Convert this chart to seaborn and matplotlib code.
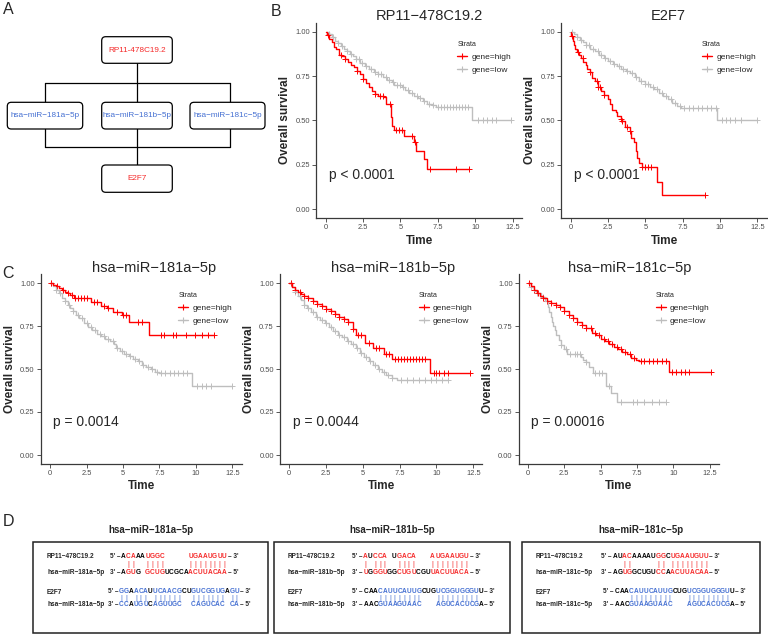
import numpy as np
import pandas as pd
import seaborn as sns
import matplotlib.pyplot as plt
from matplotlib.lines import Line2D
from matplotlib.patches import FancyBboxPatch, Rectangle

sns.set_theme(style="ticks")
plt.rcParams['font.family'] = ['Liberation Sans', 'DejaVu Sans']

RED = '#ff0000'
GREY = '#bebebe'
TXT_RED = '#f52a2a'
TXT_BLUE = '#4570d2'

W, H = 768, 637

# ---------------- KM curves (time, survival after each drop) ----------------
b1_high_t = [0, 0.1, 0.25, 0.4, 0.55, 0.7, 0.9, 1.1, 1.3, 1.5, 1.7, 1.9, 2.1, 2.3, 2.5, 2.7, 2.9, 3.1, 3.3, 3.5, 3.9, 4.0, 4.38, 4.45, 4.6, 5.25, 5.9, 6.05, 6.6, 6.8, 9.6]
b1_high_s = [1.0, 0.98, 0.96, 0.94, 0.915, 0.90, 0.87, 0.86, 0.845, 0.83, 0.81, 0.80, 0.78, 0.76, 0.735, 0.71, 0.69, 0.665, 0.65, 0.64, 0.63, 0.59, 0.52, 0.47, 0.445, 0.41, 0.38, 0.33, 0.28, 0.225, 0.225]
b1_high_c = [0.15, 1.0, 1.3, 2.1, 2.5, 3.3, 3.6, 3.85, 4.3, 4.7, 4.9, 5.1, 5.8, 6.0, 7.0, 8.7, 9.6]
b1_low_t = [0, 0.2, 0.4, 0.6, 0.8, 1.0, 1.2, 1.4, 1.6, 1.8, 2.0, 2.3, 2.6, 2.9, 3.2, 3.5, 3.8, 4.1, 4.4, 4.6, 5.1, 5.3, 5.6, 5.9, 6.2, 6.5, 6.8, 7.1, 7.4, 9.8, 12.4]
b1_low_s = [1.0, 0.985, 0.97, 0.95, 0.935, 0.92, 0.905, 0.89, 0.875, 0.86, 0.845, 0.825, 0.805, 0.79, 0.775, 0.76, 0.745, 0.73, 0.715, 0.70, 0.69, 0.67, 0.655, 0.64, 0.625, 0.61, 0.595, 0.585, 0.575, 0.50, 0.50]
b1_low_c = [0.2, 0.5, 0.8, 1.1, 1.4, 1.7, 2.0, 2.2, 2.4, 2.7, 3.0, 3.3, 3.5, 3.7, 4.0, 4.2, 4.5, 4.8, 5.0, 5.2, 5.5, 5.8, 6.1, 6.3, 6.6, 6.9, 7.2, 7.5, 7.7, 7.9, 8.1, 8.3, 8.5, 8.7, 8.9, 9.1, 9.3, 9.5, 10.2, 10.5, 10.8, 11.1, 11.4, 12.4]

b2_high_t = [0, 0.05, 0.12, 0.2, 0.3, 0.4, 0.55, 0.7, 0.85, 1.0, 1.1, 1.3, 1.45, 1.65, 1.85, 2.05, 2.25, 2.5, 2.6, 2.75, 3.0, 3.1, 3.35, 3.45, 3.65, 3.95, 4.05, 4.25, 4.35, 4.45, 4.6, 4.75, 5.75, 6.1, 9.0]
b2_high_s = [1.0, 0.975, 0.95, 0.925, 0.905, 0.885, 0.87, 0.85, 0.83, 0.81, 0.79, 0.77, 0.74, 0.72, 0.69, 0.665, 0.645, 0.62, 0.595, 0.56, 0.545, 0.525, 0.51, 0.495, 0.46, 0.44, 0.40, 0.38, 0.33, 0.29, 0.26, 0.235, 0.155, 0.08, 0.08]
b2_high_c = [0.1, 0.5, 0.8, 1.3, 1.75, 1.85, 1.95, 2.25, 3.35, 3.45, 3.8, 4.0, 4.8, 5.0, 5.2, 5.4, 9.0]
b2_low_t = [0, 0.2, 0.4, 0.6, 0.8, 1.0, 1.3, 1.6, 1.9, 2.2, 2.5, 2.8, 3.1, 3.4, 3.7, 4.0, 4.3, 4.6, 5.0, 5.3, 5.6, 5.9, 6.2, 6.5, 6.8, 7.1, 7.4, 9.8, 12.45]
b2_low_s = [1.0, 0.985, 0.97, 0.955, 0.94, 0.925, 0.905, 0.89, 0.87, 0.85, 0.835, 0.82, 0.805, 0.79, 0.78, 0.765, 0.745, 0.72, 0.705, 0.69, 0.675, 0.655, 0.64, 0.62, 0.60, 0.58, 0.568, 0.50, 0.50]
b2_low_c = [0.1, 0.4, 0.7, 1.0, 1.2, 1.5, 1.8, 2.0, 2.3, 2.6, 2.9, 3.2, 3.5, 3.8, 4.1, 4.4, 4.7, 5.0, 5.2, 5.5, 5.8, 6.1, 6.4, 6.7, 7.0, 7.3, 7.6, 7.9, 8.2, 8.5, 8.8, 9.1, 9.4, 9.7, 10.1, 10.4, 10.7, 11.0, 11.4, 12.45]

c1_high_t = [0, 0.2, 0.4, 0.6, 0.8, 1.0, 1.2, 1.4, 1.65, 2.8, 3.5, 3.9, 4.3, 4.9, 5.4, 6.75, 11.2]
c1_high_s = [1.0, 0.99, 0.98, 0.97, 0.96, 0.95, 0.94, 0.93, 0.91, 0.89, 0.865, 0.855, 0.83, 0.815, 0.775, 0.70, 0.70]
c1_high_c = [0.1, 0.5, 0.9, 1.2, 1.5, 1.7, 1.9, 2.1, 2.3, 2.5, 3.0, 3.2, 3.7, 4.0, 4.6, 5.0, 5.2, 6.0, 6.3, 7.6, 7.8, 8.4, 8.6, 9.3, 9.9, 10.4, 10.8, 11.2]
c1_low_t = [0, 0.2, 0.4, 0.6, 0.8, 1.0, 1.2, 1.4, 1.6, 1.8, 2.0, 2.3, 2.6, 2.9, 3.2, 3.5, 3.8, 4.1, 4.4, 4.5, 4.8, 5.1, 5.4, 5.7, 6.0, 6.3, 6.6, 6.9, 7.2, 7.5, 9.75, 12.45]
c1_low_s = [1.0, 0.985, 0.96, 0.94, 0.915, 0.895, 0.875, 0.855, 0.835, 0.815, 0.795, 0.77, 0.745, 0.725, 0.705, 0.69, 0.675, 0.66, 0.645, 0.62, 0.605, 0.59, 0.575, 0.56, 0.545, 0.525, 0.51, 0.50, 0.485, 0.475, 0.40, 0.40]
c1_low_c = [0.1, 0.4, 0.7, 1.0, 1.3, 1.6, 1.9, 2.2, 2.5, 2.8, 3.1, 3.4, 3.7, 4.0, 4.3, 4.6, 4.9, 5.2, 5.5, 5.8, 6.1, 6.4, 6.7, 7.0, 7.3, 7.6, 7.9, 8.2, 8.5, 8.8, 9.1, 9.4, 10.1, 10.4, 10.7, 11.0, 12.45]

c2_high_t = [0, 0.2, 0.4, 0.6, 0.8, 1.0, 1.3, 1.6, 1.9, 2.2, 2.5, 2.8, 3.1, 3.4, 3.7, 4.0, 4.3, 4.5, 5.15, 5.7, 6.4, 6.95, 9.55, 12.3]
c2_high_s = [1.0, 0.975, 0.96, 0.945, 0.935, 0.925, 0.91, 0.895, 0.88, 0.865, 0.85, 0.835, 0.82, 0.805, 0.79, 0.775, 0.73, 0.70, 0.65, 0.62, 0.59, 0.557, 0.476, 0.476]
c2_high_c = [0.1, 0.4, 0.7, 1.0, 1.3, 1.6, 1.9, 2.2, 2.5, 2.8, 3.1, 3.4, 3.7, 4.0, 4.3, 4.7, 4.9, 5.4, 5.9, 6.1, 6.6, 6.8, 7.2, 7.4, 7.6, 7.8, 8.0, 8.2, 8.4, 8.6, 8.8, 9.0, 9.2, 9.8, 10.0, 10.2, 10.5, 10.8, 12.3]
c2_low_t = [0, 0.2, 0.4, 0.6, 0.8, 1.0, 1.2, 1.5, 1.8, 2.1, 2.4, 2.7, 3.0, 3.3, 3.6, 3.9, 4.2, 4.5, 4.8, 5.1, 5.4, 5.7, 6.0, 6.3, 6.6, 7.0, 7.3, 10.8]
c2_low_s = [1.0, 0.975, 0.95, 0.925, 0.90, 0.875, 0.855, 0.83, 0.805, 0.785, 0.765, 0.745, 0.72, 0.70, 0.685, 0.665, 0.645, 0.625, 0.595, 0.57, 0.545, 0.525, 0.50, 0.485, 0.465, 0.45, 0.437, 0.437]
c2_low_c = [0.1, 0.4, 0.7, 1.0, 1.3, 1.6, 1.9, 2.2, 2.5, 2.8, 3.1, 3.4, 3.7, 4.0, 4.3, 4.6, 4.9, 5.2, 5.5, 5.8, 6.1, 6.4, 6.7, 7.0, 7.6, 8.0, 8.4, 8.8, 9.2, 9.6, 10.0, 10.4, 10.8]

c3_high_t = [0, 0.2, 0.4, 0.6, 0.8, 1.0, 1.3, 1.6, 1.9, 2.2, 2.5, 2.8, 3.1, 3.4, 3.7, 4.0, 4.4, 4.7, 5.0, 5.3, 5.6, 5.9, 6.2, 6.5, 6.8, 7.1, 7.4, 7.65, 9.7, 12.57]
c3_high_s = [1.0, 0.98, 0.96, 0.94, 0.925, 0.91, 0.895, 0.885, 0.875, 0.86, 0.84, 0.815, 0.795, 0.775, 0.755, 0.74, 0.71, 0.695, 0.675, 0.66, 0.645, 0.63, 0.615, 0.60, 0.585, 0.565, 0.55, 0.544, 0.482, 0.482]
c3_high_c = [0.1, 0.4, 0.7, 1.0, 1.3, 1.6, 1.9, 2.2, 2.5, 2.8, 3.1, 3.4, 3.7, 4.0, 4.3, 4.6, 4.9, 5.2, 5.5, 5.8, 6.1, 6.4, 6.7, 7.0, 7.3, 7.8, 8.0, 8.3, 8.6, 8.9, 9.2, 9.5, 9.9, 10.2, 10.5, 10.8, 11.1, 12.57]
c3_low_t = [0, 0.2, 0.4, 0.6, 0.9, 1.2, 1.35, 1.45, 1.55, 1.65, 1.75, 1.85, 1.95, 2.1, 2.25, 2.5, 2.7, 3.65, 3.8, 4.0, 4.2, 4.45, 5.35, 5.7, 6.15, 9.47]
c3_low_s = [1.0, 0.975, 0.955, 0.94, 0.92, 0.895, 0.86, 0.83, 0.80, 0.775, 0.75, 0.725, 0.70, 0.67, 0.64, 0.615, 0.59, 0.57, 0.555, 0.54, 0.51, 0.476, 0.40, 0.36, 0.31, 0.31]
c3_low_c = [0.2, 0.6, 1.0, 1.3, 2.3, 2.6, 2.9, 3.2, 3.4, 3.6, 4.0, 4.6, 4.9, 5.1, 5.6, 6.4, 7.2, 7.5, 8.0, 8.5, 9.0, 9.47]

km_titles = ['RP11−478C19.2', 'E2F7', 'hsa−miR−181a−5p', 'hsa−miR−181b−5p', 'hsa−miR−181c−5p']
km_pvals = ['p < 0.0001', 'p < 0.0001', 'p = 0.0014', 'p = 0.0044', 'p = 0.00016']
x_ticks = [0, 2.5, 5, 7.5, 10, 12.5]
x_ticklabels = ['0', '2.5', '5', '7.5', '10', '12.5']
y_ticks = [0, 0.25, 0.5, 0.75, 1.0]
y_ticklabels = ['0.00', '0.25', '0.50', '0.75', '1.00']

# ---------------- panel A network ----------------
a_top = 'RP11-478C19.2'
a_mid = ['hsa−miR−181a−5p', 'hsa−miR−181b−5p', 'hsa−miR−181c−5p']
a_bottom = 'E2F7'

# ---------------- panel D duplexes ----------------
d_titles = ['hsa−miR−181a−5p', 'hsa−miR−181b−5p', 'hsa−miR−181c−5p']
d_rp11 = ['ACAAAUGGC     UGAAUGUU', 'AUCCA UGACA   AUGAAUGU', 'AUACAAAAUGGCUGAAUGUU']
d_rp11_col = ['krrkkrrrr     rrrrrrrr', 'rkrrr krrrr   rrrrrrrr', 'kkrrkkkkkrrkrrrrrrrr']
d_mir1 = ['AGUG GCUGUCGCAACUUACAA', 'UGGGUGGCUGUCGUUACUUACA', 'AGUGGCUGUCCAACUUACAA']
d_mir1_col = ['krrk rrrrkkkkkrrrrrrrr', 'rkrrrkkrrrrkkkrrrrrrrr', 'kkrrkkkkkrrkrrrrrrrr']
d_e2f7 = ['GGAACAUUCAACGCUGUCGGUGAGU', 'CAACAUUCAUUGCUGUCGGUGGGUU', 'CAACAUUCAUUGCUGUCGGUGGGUU']
d_e2f7_col = ['bbkbbbkbbbbbbkkbbbbbbbkbb', 'kkkbbbbbbbbbkkkbbbbbbbbbk', 'kkkbbbbbbbbbkkkbbbbbbbbbk']
d_mir2 = ['CCAUGUCAGUUGC  CAGUCAC CA', 'AACGUAAGUAAC   AGUCACUCGA', 'AACGUAAGUAAC   AGUCACUCGA']
d_mir2_col = ['bbkbbbkbbbbbb  bbbbbbb bb', 'kkkbbbbbbbbb   bbbbbbbbbk', 'kkkbbbbbbbbb   bbbbbbbbbk']

fig = plt.figure(figsize=(W / 100, H / 100), dpi=100)

# overlay axes in pixel units for the diagrams and panel letters
ov = fig.add_axes([0, 0, 1, 1])
ov.set_xlim(0, W)
ov.set_ylim(H, 0)
ov.axis('off')


def px_rect(left, top, right, bottom):
    return [left / W, (H - bottom) / H, (right - left) / W, (bottom - top) / H]


def step_at(t, s, c):
    idx = np.searchsorted(np.asarray(t), np.asarray(c), side='right') - 1
    return np.asarray(s)[idx]


def km_panel(rect, title, pval, high, low, title_x):
    ax = fig.add_axes(rect)
    for (t, s, c), col in [(low, GREY), (high, RED)]:
        df = pd.DataFrame({'time': t, 'surv': s})
        sns.lineplot(data=df, x='time', y='surv', drawstyle='steps-post', color=col,
                     lw=1.0, estimator=None, sort=False, ax=ax)
        sns.scatterplot(x=c, y=step_at(t, s, c), marker='+', color=col, s=16,
                        linewidth=0.7, legend=False, ax=ax)
    ax.set_xlim(-0.625, 13.125)
    ax.set_ylim(-0.05, 1.05)
    ax.set_xticks(x_ticks)
    ax.set_xticklabels(x_ticklabels)
    ax.set_yticks(y_ticks)
    ax.set_yticklabels(y_ticklabels)
    sns.despine(ax=ax)
    for sp in ['left', 'bottom']:
        ax.spines[sp].set_linewidth(0.9)
        ax.spines[sp].set_color('#3a3a3a')
    ax.tick_params(length=3, width=0.6, color='#3a3a3a', labelsize=5.4,
                   labelcolor='#4d4d4d', pad=1.5)
    ax.set_xlabel('Time', fontsize=8.5, fontweight='bold', labelpad=2.5)
    ax.set_ylabel('Overall survival', fontsize=8.5, fontweight='bold', labelpad=3)
    ax.annotate(title, xy=(title_x, 1.0), xycoords='axes fraction', xytext=(0, 2),
                textcoords='offset points', ha='center', va='baseline', fontsize=10.5)
    ax.text(0.23, 0.19, pval, fontsize=10, ha='left', va='center')
    handles = [Line2D([], [], color=RED, lw=1.0, marker='+', ms=4, mew=0.8),
               Line2D([], [], color=GREY, lw=1.0, marker='+', ms=4, mew=0.8)]
    ax.legend(handles, ['gene=high', 'gene=low'], title='Strata', fontsize=6,
              title_fontsize=5, frameon=False, loc='upper left',
              bbox_to_anchor=(0.685, 0.905), handlelength=1.2,
              handletextpad=0.5, labelspacing=0.6, borderpad=0,
              borderaxespad=0, alignment='left')
    return ax


km_panel(px_rect(316.4, 22.8, 521.9, 217.9), km_titles[0], km_pvals[0],
         (b1_high_t, b1_high_s, b1_high_c), (b1_low_t, b1_low_s, b1_low_c), 0.548)
km_panel(px_rect(561.4, 22.8, 766.7, 217.9), km_titles[1], km_pvals[1],
         (b2_high_t, b2_high_s, b2_high_c), (b2_low_t, b2_low_s, b2_low_c), 0.52)
km_panel(px_rect(40.9, 274.4, 241.6, 463.6), km_titles[2], km_pvals[2],
         (c1_high_t, c1_high_s, c1_high_c), (c1_low_t, c1_low_s, c1_low_c), 0.565)
km_panel(px_rect(280.1, 274.4, 482.5, 463.6), km_titles[3], km_pvals[3],
         (c2_high_t, c2_high_s, c2_high_c), (c2_low_t, c2_low_s, c2_low_c), 0.56)
km_panel(px_rect(518.9, 274.4, 718.8, 463.6), km_titles[4], km_pvals[4],
         (c3_high_t, c3_high_s, c3_high_c), (c3_low_t, c3_low_s, c3_low_c), 0.556)

# panel letters
for lab, x, y in [('A', 8, 10), ('B', 276, 12), ('C', 8, 274), ('D', 8, 521)]:
    ov.text(x, y, lab, fontsize=11.5, ha='center', va='center')

# ---------------- panel A ----------------
def node(x0, y0, x1, y1, text, color):
    ov.add_patch(FancyBboxPatch((x0, y0), x1 - x0, y1 - y0,
                                boxstyle='round,pad=0,rounding_size=4',
                                fc='white', ec='black', lw=0.9, zorder=3))
    ov.text((x0 + x1) / 2, (y0 + y1) / 2, text, color=color, fontsize=5.9,
            ha='center', va='center', zorder=4)

lk = dict(color='black', lw=0.9, zorder=2)
ov.plot([137, 137], [63, 165], **lk)
ov.plot([45.3, 229.7], [83.3, 83.3], **lk)
ov.plot([45.3, 229.7], [146.7, 146.7], **lk)
ov.plot([45.3, 45.3], [83.3, 146.7], **lk)
ov.plot([229.7, 229.7], [83.3, 146.7], **lk)

node(101.7, 36.7, 172.3, 63.3, a_top, TXT_RED)
for (x0, x1), name in zip([(7.3, 82.7), (101.7, 172.3), (190.0, 265.0)], a_mid):
    node(x0, 102.3, x1, 129.0, name, TXT_BLUE)
node(101.7, 165.0, 172.3, 192.3, a_bottom, TXT_RED)

# ---------------- panel D ----------------
colmap = {'k': 'black', 'r': TXT_RED, 'b': TXT_BLUE}
box_x = [(33, 268), (274, 510), (522, 760)]
pair1_x0 = [123.5, 365.5, 615]
pair2_x0 = [121.5, 366, 617]
pitch = 4.8
fs_seq = 4.7


def draw_row(x0, y, seq, cols, left, right):
    n = len(seq)
    ov.text(x0 - 3.2, y, left, fontsize=fs_seq, fontweight='bold', ha='right', va='center')
    for i, (ch, cc) in enumerate(zip(seq, cols)):
        if ch != ' ':
            ov.text(x0 + i * pitch, y, ch, fontsize=fs_seq, fontweight='bold',
                    color=colmap[cc], ha='center', va='center')
    ov.text(x0 + (n - 1) * pitch + 3.2, y, right, fontsize=fs_seq, fontweight='bold',
            ha='left', va='center')


def draw_bars(x0, y, cols_a, cols_b):
    for i, (a, b) in enumerate(zip(cols_a, cols_b)):
        if a in 'rb' and b in 'rb':
            ov.text(x0 + i * pitch, y, '|', fontsize=5.5, color=colmap[a],
                    ha='center', va='center')


for k in range(3):
    bx0, bx1 = box_x[k]
    ov.add_patch(Rectangle((bx0, 542), bx1 - bx0, 91, fc='none', ec='#222222', lw=1.1))
    ov.text((bx0 + bx1) / 2, 530, d_titles[k], fontsize=7, fontweight='bold',
            ha='center', va='center')
    lx = bx0 + 14
    ov.text(lx, 556, 'RP11−478C19.2', fontsize=fs_seq, fontweight='bold', ha='left', va='center')
    ov.text(lx, 572, d_titles[k], fontsize=fs_seq, fontweight='bold', ha='left', va='center')
    ov.text(lx, 592, 'E2F7', fontsize=fs_seq, fontweight='bold', ha='left', va='center')
    ov.text(lx, 605, d_titles[k], fontsize=fs_seq, fontweight='bold', ha='left', va='center')
    draw_row(pair1_x0[k], 556, d_rp11[k], d_rp11_col[k], "5' –", "– 3'")
    draw_bars(pair1_x0[k], 564, d_rp11_col[k], d_mir1_col[k])
    draw_row(pair1_x0[k], 572, d_mir1[k], d_mir1_col[k], "3' –", "– 5'")
    draw_row(pair2_x0[k], 591.5, d_e2f7[k], d_e2f7_col[k], "5' –", "– 3'")
    draw_bars(pair2_x0[k], 598, d_e2f7_col[k], d_mir2_col[k])
    draw_row(pair2_x0[k], 605, d_mir2[k], d_mir2_col[k], "3' –", "– 5'")

fig.savefig('out.png', dpi=100)
